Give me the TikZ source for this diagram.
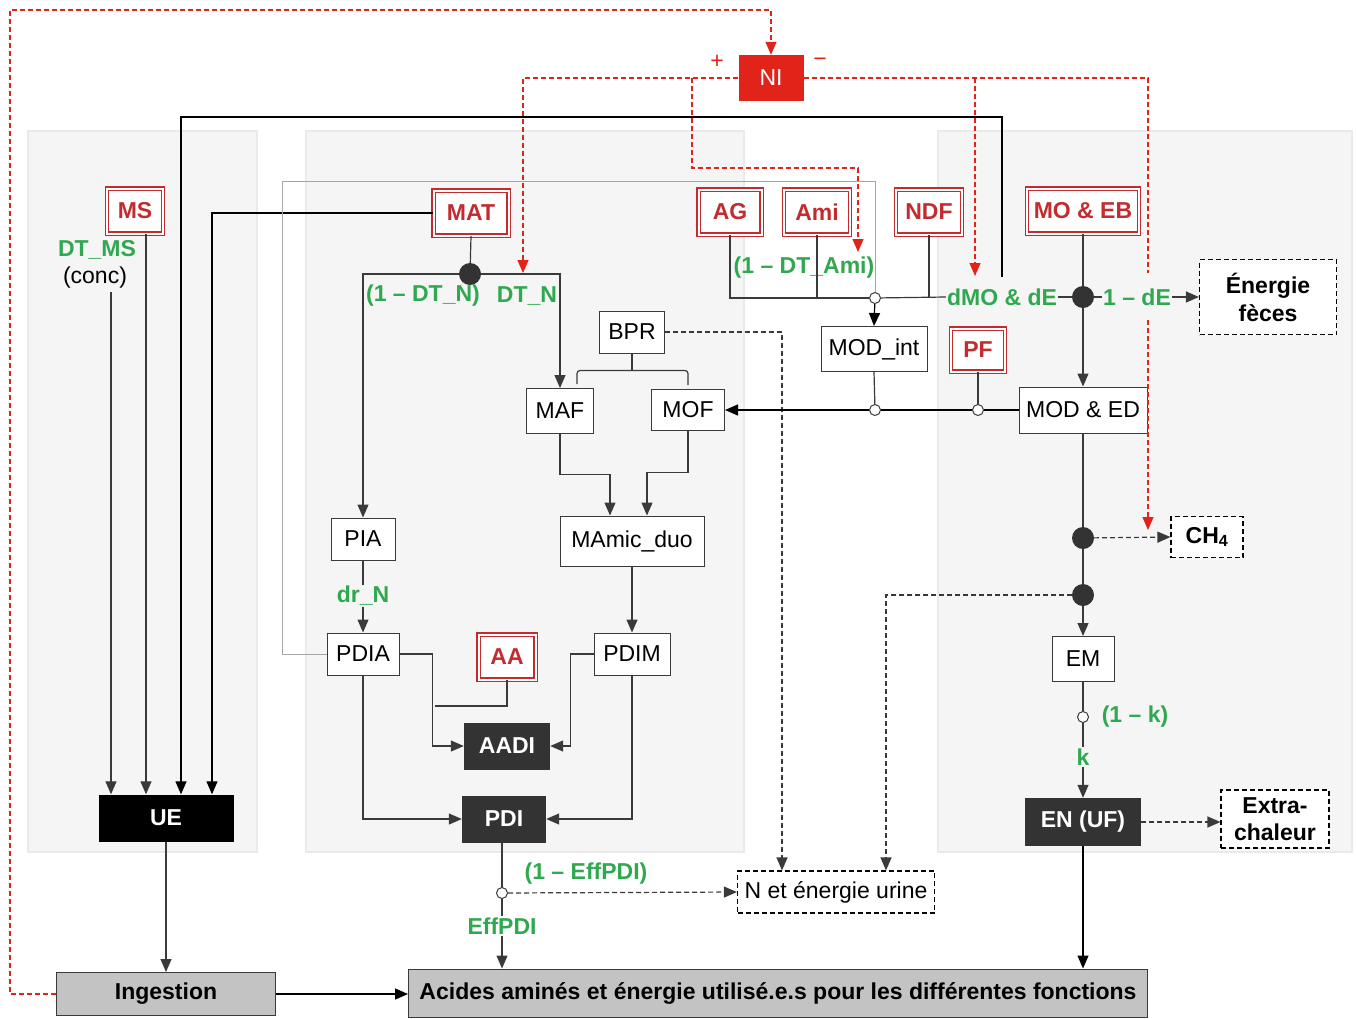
\documentclass[tikz,border=0pt]{standalone}
\usepackage{fontspec}
\setmainfont{Liberation Sans}
\usetikzlibrary{arrows.meta,positioning,calc}
\definecolor{inred}{HTML}{C42B2F}
\definecolor{nired}{HTML}{E2231A}
\definecolor{coefgreen}{HTML}{2FA84F}
\definecolor{panelgray}{HTML}{F5F5F5}
\definecolor{panelline}{HTML}{EAEAEA}
\definecolor{boxdark}{HTML}{333333}
\definecolor{linedark}{HTML}{3A3A3A}
\definecolor{sumgray}{HTML}{C3C3C3}

\begin{document}
\begin{tikzpicture}[x=1pt,y=-1pt,>={Triangle[length=13pt,width=11pt]},
 every node/.style={font=\fontsize{23}{27}\selectfont},
 panel/.style={fill=panelgray,draw=panelline,line width=1.5pt},
 inbox/.style={draw=inred,double=white,double distance=2pt,line width=1.4pt,fill=white,text=inred,font=\fontsize{23}{27}\selectfont\bfseries,inner sep=0pt},
 varbox/.style={draw=linedark,fill=white,line width=1pt,inner sep=0pt},
 darkbox/.style={fill=boxdark,text=white,font=\fontsize{23}{27}\selectfont\bfseries,inner sep=0pt},
 outbox/.style={draw=black,dash pattern=on 5pt off 3pt,fill=white,line width=1.2pt,inner sep=0pt,align=center},
 sumbox/.style={draw=linedark,fill=sumgray,line width=1pt,font=\fontsize{23}{27}\selectfont\bfseries,inner sep=0pt},
 coef/.style={text=coefgreen,font=\fontsize{23}{27}\selectfont\bfseries,inner sep=1pt},
 jdot/.style={circle,fill=boxdark,minimum size=22pt,inner sep=0pt},
 odot/.style={circle,draw=linedark,fill=white,minimum size=11pt,inner sep=0pt,line width=1pt},
 flow/.style={draw=linedark,line width=1.2pt},
 dflow/.style={flow,dash pattern=on 5pt off 3pt},
 rflow/.style={draw=nired,line width=1.2pt,dash pattern=on 5pt off 3pt}]
\useasboundingbox (0,0) rectangle (1356,1018);

% panels
\draw[panel] (28,131) rectangle (257,852);
\draw[panel] (306,131) rectangle (744,852);
\draw[panel] (938,131) rectangle (1352,852);

% inputs
\node[fill=nired,text=white,minimum width=65,minimum height=46,inner sep=0pt] (ni) at (771,78) {NI};
\node[text=nired] (plus) at (717,62) {+};
\node[text=nired] (minus) at (820,62) {−};
\node[inbox,minimum width=56,minimum height=45] (ms) at (135,211) {MS};
\node[inbox,minimum width=75,minimum height=45] (mat) at (471,213) {MAT};
\node[inbox,minimum width=63,minimum height=45] (ag) at (730,212) {AG};
\node[inbox,minimum width=66,minimum height=45] (ami) at (817,212) {Ami};
\node[inbox,minimum width=66,minimum height=45] (ndf) at (929,212) {NDF};
\node[inbox,minimum width=112,minimum height=45] (moeb) at (1083,211) {MO \& EB};
\node[inbox,minimum width=54,minimum height=43] (pf) at (978,350) {PF};
\node[inbox,minimum width=57,minimum height=45] (aa) at (507,657) {AA};

% variables
\node[varbox,minimum width=65,minimum height=42] (bpr) at (632,332) {BPR};
\node[varbox,minimum width=67,minimum height=45] (maf) at (560,411) {MAF};
\node[varbox,minimum width=73,minimum height=41] (mof) at (688,410) {MOF};
\node[varbox,minimum width=106,minimum height=45] (modint) at (874,349) {MOD\_int};
\node[varbox,minimum width=128,minimum height=46] (moded) at (1083,410) {MOD \& ED};
\node[varbox,minimum width=64,minimum height=42] (pia) at (363,539) {PIA};
\node[varbox,minimum width=144,minimum height=50] (mamic) at (632,541) {MAmic\_duo};
\node[varbox,minimum width=72,minimum height=42] (pdia) at (363,654) {PDIA};
\node[varbox,minimum width=76,minimum height=42] (pdim) at (632,654) {PDIM};
\node[varbox,minimum width=62,minimum height=45] (em) at (1083,659) {EM};
\node[darkbox,minimum width=86,minimum height=47] (aadi) at (507,746) {AADI};
\node[darkbox,minimum width=84,minimum height=47] (pdi) at (504,819) {PDI};
\node[darkbox,fill=black,minimum width=135,minimum height=47] (ue) at (166,818) {UE};
\node[darkbox,minimum width=116,minimum height=48] (en) at (1083,822) {EN (UF)};

% outputs
\node[outbox,font=\fontsize{23}{28}\selectfont\bfseries,minimum width=137,minimum height=75] (feces) at (1268,297) {Énergie\\fèces};
\node[outbox,font=\fontsize{23}{27}\selectfont\bfseries,minimum width=72,minimum height=41] (ch4) at (1207,537) {CH\textsubscript{4}};
\node[outbox,font=\fontsize{23}{27}\selectfont\bfseries,minimum width=108,minimum height=58] (extra) at (1275,819) {Extra-\\chaleur};
\node[outbox,minimum width=197,minimum height=42] (urine) at (836,892) {N et énergie urine};
\node[sumbox,minimum width=219,minimum height=43] (ing) at (166,994) {Ingestion};
\node[sumbox,minimum width=739,minimum height=48] (acides) at (778,993) {Acides aminés et énergie utilisé.e.s pour les différentes fonctions};

% junctions
\node[jdot] (dotn) at (470,274) {};
\node[jdot] (dote) at (1083,297) {};
\node[jdot] (dotc) at (1083,538) {};
\node[jdot] (dotu) at (1083,595) {};
\node[odot] (omod) at (875,298) {};
\node[odot] (o1) at (875,410) {};
\node[odot] (o2) at (978,410) {};
\node[odot] (ok) at (1083,717) {};
\node[odot] (oeff) at (502,893) {};

% coefficients
\node[coef] (dtms) at (97,250) {DT\_MS};
\node (conc) at (95,278) {(conc)};
\node[coef] (dtn1) at (423,296) {(1 – DT\_N)};
\node[coef] (dtn2) at (527,296) {DT\_N};
\node[coef] (dtami) at (804,268) {(1 – DT\_Ami)};
\node[coef] (dmo) at (1002,297) {dMO \& dE};
\node[coef] (onede) at (1137,297) {1 – dE};
\node[coef] (drn) at (363,596) {dr\_N};
\node[coef] (onek) at (1135,717) {(1 – k)};
\node[coef] (kk) at (1083,757) {k};
\node[coef] (oneeff) at (586,874) {(1 – EffPDI)};
\node[coef] (eff) at (502,926) {EffPDI};

\coordinate (rc) at (10,10);
\coordinate (dtin) at (523,273);
\coordinate (rk) at (692,168);
\coordinate (amin) at (858,252);
\coordinate (dmin) at (975,276);
\coordinate (chgap) at (1148,273);
\coordinate (chres) at (1148,320);
\coordinate (chin) at (1148,530);
\coordinate (tl) at (181,117);
\coordinate (gl) at (282,181);
\coordinate (ue1) at ($(ue.north)+(-55,0)$);
\coordinate (ue2) at ($(ue.north)+(-20,0)$);
\coordinate (ue3) at ($(ue.north)+(15,0)$);
\coordinate (ue4) at ($(ue.north)+(46,0)$);
\coordinate (ur1) at ($(urine.north)+(-54,0)$);
\coordinate (ur2) at ($(urine.north)+(50,0)$);
\coordinate (mm1) at ($(mamic.north)+(-22,0)$);
\coordinate (mm2) at ($(mamic.north)+(15,0)$);
\coordinate (aaj) at ($(pdia.east)+(35,52)$);

% NI feedback
\draw[rflow,->] (ing.west) -| (rc) -| (ni.north);
\draw[rflow,->] (ni.west) -| (dtin);
\draw[rflow,->] (rk |- ni.west) -- (rk) -| (amin);
\draw[rflow] (ni.east) -| (chgap);
\draw[rflow,->] (chres) -- (chin);
\draw[rflow,->] (dmin |- ni.east) -- (dmin);

% intake
\draw[flow,->] (conc.south -| ue1) -- (ue1);
\draw[flow,->] (ms.south -| ue2) -- (ue2);
\draw[flow,draw=black,->,shorten <=10pt] (dmo.north) |- (tl) -- (ue3);
\draw[flow,draw=black,->] (mat.west) -| (ue4);
\draw[flow,->] (ue.south) -- (ing.north);
\draw[flow,draw=black,->] (ing.east) -- (ing.east -| acides.west);

% nitrogen
\draw[flow] (mat.south) -- (dotn);
\draw[flow,->] (dotn) -| (pia.north);
\draw[flow,->] (dotn) -| (maf.north);
\draw[dflow,->] (bpr.east) -| (ur1);
\draw[flow,rounded corners=3pt] ($(maf.north)+(17,-4)$) |- ($(bpr.south)+(0,17)$) -| ($(mof.north)+(0,-4)$);
\draw[flow] (bpr.south) -- ++(0,17);
\draw[flow,->] (maf.south) |- ($(mm1)+(0,-41)$) -- (mm1);
\draw[flow,->] (mof.south) |- ($(mm2)+(0,-43)$) -- (mm2);
\draw[flow] (pia.south) -- (drn.north);
\draw[flow,->] (drn.south) -- (pdia.north);
\draw[flow,->] (mamic.south) -- (pdim.north);
\draw[flow,->] (pdia.east) -- ++(33,0) |- (aadi.west);
\draw[flow] (aa.south) |- (aaj);
\draw[flow,->] (pdim.west) -- ++(-23,0) |- (aadi.east);
\draw[flow,->] (pdia.south) |- (pdi.west);
\draw[flow,->] (pdim.south) |- (pdi.east);
\draw[flow] (pdi.south -| oeff) -- (oeff);
\draw[flow] (oeff) -- (eff.north);
\draw[flow,->] (eff.south) -- (eff.south |- acides.north);
\draw[dflow,->] (oeff) -- (urine.west);

% organic matter and energy
\draw[flow,draw=gray!70,line width=1pt] (pdia.west) -| (gl) -| (omod.north);
\draw[flow] (ag.south) |- (omod);
\draw[flow] (ami.south) -- (ami.south |- omod.center);
\draw[flow] (ndf.south) -- (ndf.south |- omod.center);
\draw[flow] (omod) -- (dmo.west);
\draw[flow,draw=black,->] (omod) -- (modint.north);
\draw[flow] (dmo.east) -- (dote);
\draw[flow] (dote) -- (onede.west);
\draw[flow,->] (onede.east) -- (feces.west);
\draw[flow] (moeb.south) -- (dote);
\draw[flow,->] (dote) -- (moded.north);
\draw[flow] (modint.south) -- (o1);
\draw[flow] (pf.south) -- (o2);
\draw[flow,draw=black,->] (moded.west) -- (o2) -- (o1) -- (mof.east);
\draw[flow] (moded.south) -- (dotc);
\draw[flow] (dotc) -- (dotu);
\draw[flow,->] (dotu) -- (em.north);
\draw[dflow,->] (dotc) -- (ch4.west);
\draw[dflow,->] (dotu) -| (ur2);
\draw[flow] (em.south) -- (ok);
\draw[flow] (ok) -- (kk.north);
\draw[flow,->] (kk.south) -- (en.north);
\draw[dflow,->] (en.east) -- (en.east -| extra.west);
\draw[flow,draw=black,->] (en.south) -- (en.south |- acides.north);
\end{tikzpicture}
\end{document}
